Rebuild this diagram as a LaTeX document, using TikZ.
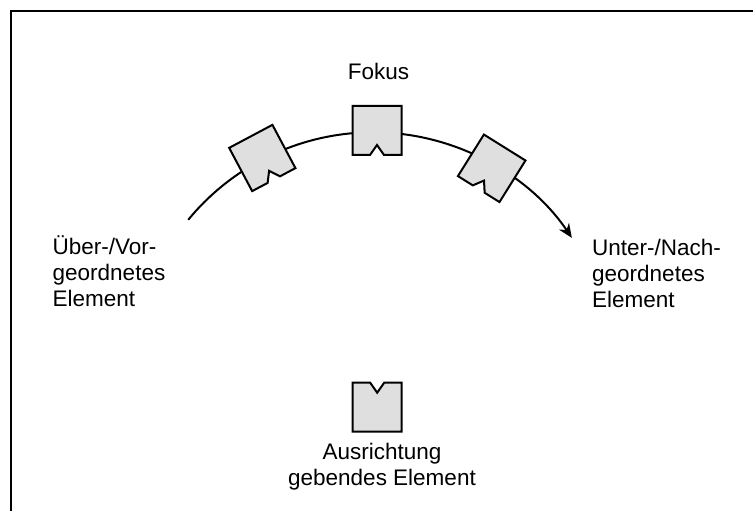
\documentclass[tikz,border=0pt]{standalone}
\usepackage{fontspec}
\setmainfont{Liberation Sans}
\usetikzlibrary{arrows.meta}

\tikzset{
  label text/.style={inner sep=0pt, font=\fontsize{22.5}{26}\selectfont},
  part outline/.style={draw=black, line width=2pt, fill=partgray, line join=miter},
  flow/.style={line width=2pt, -{Stealth[length=14pt,width=12pt,inset=4.5pt]}},
  pics/notched part/.style={
    code={
      \path[part outline] (-24.5,24.5) -- (24.5,24.5) -- (24.5,-24.5)
        -- (7,-24.5) -- (0,-14.5) -- (-7,-24.5) -- (-24.5,-24.5) -- cycle;
    }
  }
}
\definecolor{partgray}{HTML}{DFDFDF}

\begin{document}
\begin{tikzpicture}[x=1pt, y=1pt]
  \useasboundingbox (0,0) rectangle (753,511);
  \begin{scope}
    \clip (0,0) rectangle (753,511);
    % frame, running out of the page at right and bottom
    \draw[line width=2.2pt] (10.8,-10) -- (10.8,500) -- (770,500);
  \end{scope}

  % path of the focus along the hierarchy
  \coordinate (c) at (373.3,139.2);
  \draw[flow] (c) ++(140.6:239.5) coordinate (upper)
    arc[start angle=140.6, end angle=34, radius=239.5] coordinate (lower);

  % parts travelling along the path
  \pic[rotate=28]  (partA) at (262.3,353) {notched part};
  \pic             (partB) at (377,380.5) {notched part};
  \pic[rotate=-32] (partC) at (491.7,342.7) {notched part};

  % orienting part
  \pic[rotate=180] (partD) at (377.2,103.8) {notched part};

  % labels
  \node[label text, anchor=base] (fokus) at (378.5,431) {Fokus};
  \node[label text, anchor=west, align=left] (upperlbl) at (52.5,239.8)
    {Über-/Vor-\\geordnetes\\Element};
  \node[label text, anchor=west, align=left] (lowerlbl) at (592,238)
    {Unter-/Nach-\\geordnetes\\Element};
  \node[label text, align=center] (orient) at (382,44.5)
    {Ausrichtung\\gebendes Element};
\end{tikzpicture}
\end{document}
